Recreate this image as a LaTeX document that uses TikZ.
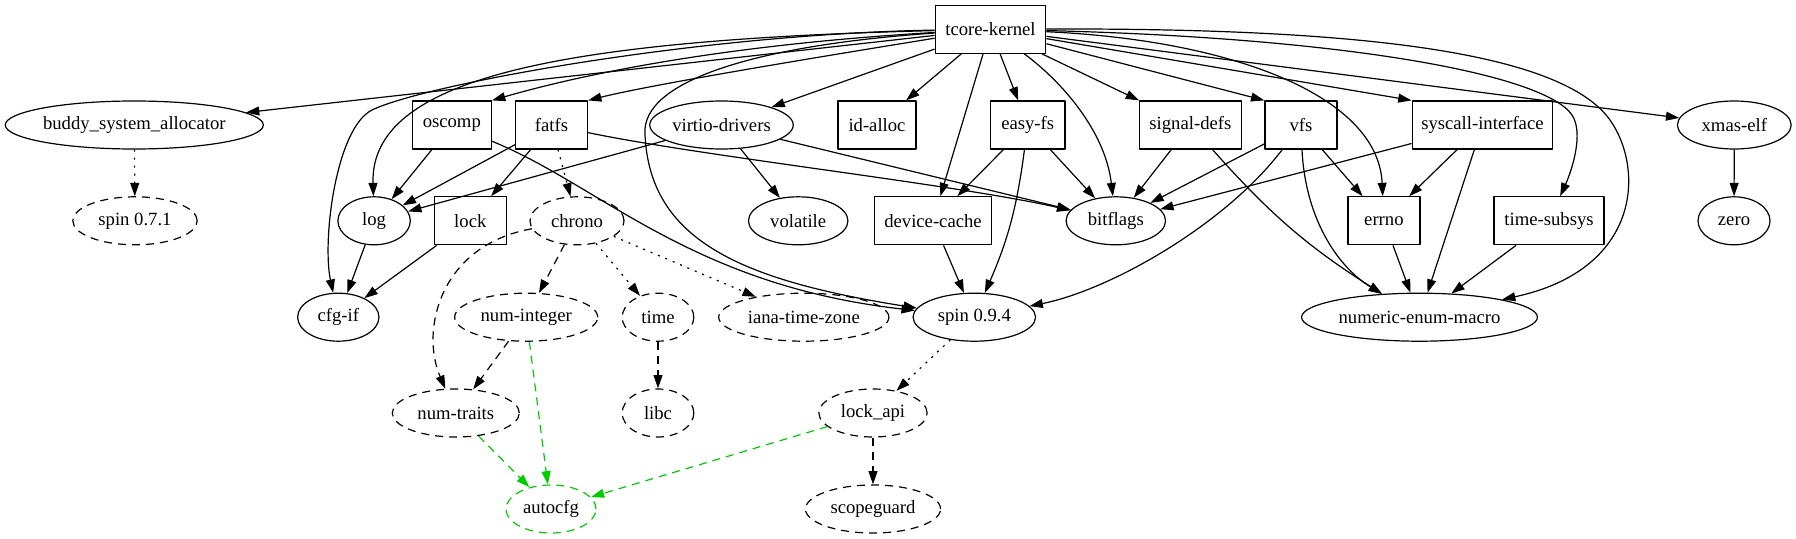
\documentclass[tikz,border=0pt]{standalone}
\usepackage{fontspec}
\setmainfont{Liberation Serif}
\usetikzlibrary{arrows.meta,shapes.geometric}

\definecolor{depgreen}{RGB}{0,205,0}

\tikzset{
  crate/.style={draw,rectangle,minimum height=36pt,inner sep=0pt,line width=0.9pt},
  dep/.style={draw,ellipse,minimum height=36pt,inner sep=0pt,line width=0.9pt},
  optdep/.style={dep,dash pattern=on 6pt off 4.5pt},
  builddep/.style={optdep,draw=depgreen},
  uses/.style={-{Triangle[length=10pt,width=6.7pt]},line width=0.9pt},
  optuses/.style={uses,dash pattern=on 6pt off 4.5pt},
  weakuses/.style={uses,dash pattern=on 1.5pt off 4.5pt},
  builduses/.style={optuses,depgreen}
}

\begin{document}
\begin{tikzpicture}[x=0.75pt,y=-0.75pt,line cap=butt,line join=round,
    font=\fontsize{14}{16}\selectfont]
  \useasboundingbox (0,0) rectangle (1796,539);

  \node[crate,minimum width=83pt] (tk) at (990.5,29.2) {tcore-kernel};

  \node[dep,minimum width=193.5pt] (buddy) at (134.3,125) {buddy\_system\_allocator};
  \node[crate,minimum width=59.4pt] (oscomp) at (451.8,125) {oscomp};
  \node[crate,minimum width=54pt] (fatfs) at (551.5,125) {fatfs};
  \node[dep,minimum width=107.6pt] (virtio) at (721.5,125) {virtio-drivers};
  \node[crate,minimum width=58.5pt] (idalloc) at (877,125) {id-alloc};
  \node[crate,minimum width=56pt] (easyfs) at (1027.7,125) {easy-fs};
  \node[crate,minimum width=76.2pt] (signal) at (1190.4,125) {signal-defs};
  \node[crate,minimum width=54pt] (vfs) at (1300.9,125) {vfs};
  \node[crate,minimum width=105.4pt] (syscall) at (1482.4,125) {syscall-interface};
  \node[dep,minimum width=85.3pt] (xmas) at (1734.3,125) {xmas-elf};

  \node[optdep,minimum width=93.3pt] (spin071) at (135,220.8) {spin 0.7.1};
  \node[dep,minimum width=54.3pt] (log) at (374.1,220.8) {log};
  \node[crate,minimum width=54pt] (lock) at (470.3,220.8) {lock};
  \node[optdep,minimum width=70.5pt] (chrono) at (577,220.8) {chrono};
  \node[dep,minimum width=74.6pt] (volatile) at (798.2,220.8) {volatile};
  \node[crate,minimum width=87.2pt] (devcache) at (933,220.8) {device-cache};
  \node[dep,minimum width=74.6pt] (bitflags) at (1115.8,220.8) {bitflags};
  \node[crate,minimum width=54pt] (errno) at (1383.9,220.8) {errno};
  \node[crate,minimum width=82.5pt] (timesub) at (1549,220.8) {time-subsys};
  \node[dep,minimum width=54pt] (zero) at (1734,220.8) {zero};

  \node[dep,minimum width=61pt] (cfgif) at (338.3,317.2) {cfg-if};
  \node[optdep,minimum width=107.3pt] (numint) at (526.2,317.2) {num-integer};
  \node[optdep,minimum width=53.7pt] (time) at (658,317.2) {time};
  \node[optdep,minimum width=127.7pt] (iana) at (803.8,317.2) {iana-time-zone};
  \node[dep,minimum width=91.9pt] (spin094) at (974.3,317.2) {spin 0.9.4};
  \node[dep,minimum width=176.9pt] (numenum) at (1419.5,317.2) {numeric-enum-macro};

  \node[optdep,minimum width=95.3pt] (numtraits) at (455.8,413) {num-traits};
  \node[optdep,minimum width=53.7pt] (libc) at (658,413) {libc};
  \node[optdep,minimum width=81.2pt] (lockapi) at (873,413) {lock\_api};

  \node[builddep,minimum width=67.5pt] (autocfg) at (551,509) {autocfg};
  \node[optdep,minimum width=101.3pt] (scopeguard) at (873,509) {scopeguard};

  \draw[uses] (tk) -- (buddy);
  \draw[uses] (tk) .. controls (550,40) and (370,80) .. (log);
  \draw[uses] (tk) .. controls (700,34) and (426,84) .. (372,110)
    .. controls (336,128) and (322,240) .. (cfgif);
  \draw[uses] (tk) .. controls (720,45) and (580,75) .. (oscomp.north east);
  \draw[uses] (tk) .. controls (800,60) and (650,85) .. (fatfs.north east);
  \draw[uses] (tk) .. controls (760,45) and (640,80) .. (645,135)
    .. controls (650,240) and (740,280) .. (spin094);
  \draw[uses] (tk) -- (virtio);
  \draw[uses] (tk) -- (idalloc);
  \draw[uses] (tk) -- (devcache);
  \draw[uses] (tk) -- (easyfs);
  \draw[uses] (tk) .. controls (1060,80) and (1105,130) .. (bitflags);
  \draw[uses] (tk) -- (signal);
  \draw[uses] (tk) -- (vfs.north west);
  \draw[uses] (tk) .. controls (1230,40) and (1378,95) .. (errno);
  \draw[uses] (tk) -- (syscall.north west);
  \draw[uses] (tk) .. controls (1350,38) and (1545,75) .. (1572,115)
    .. controls (1584,133) and (1572,170) .. (timesub);
  \draw[uses] (tk) .. controls (1350,28) and (1560,50) .. (1610,120)
    .. controls (1645,170) and (1640,270) .. (numenum);
  \draw[uses] (tk) -- (xmas);

  \draw[weakuses] (buddy) -- (spin071);
  \draw[uses] (oscomp) -- (log);
  \draw[uses] (oscomp) .. controls (600,185) and (690,285) .. (spin094);
  \draw[uses] (fatfs) -- (log);
  \draw[uses] (fatfs) -- (lock);
  \draw[weakuses] (fatfs) -- (chrono);
  \draw[uses] (fatfs) .. controls (700,156) and (960,185) .. (bitflags);
  \draw[uses] (virtio) -- (log);
  \draw[uses] (virtio) -- (volatile);
  \draw[uses] (virtio) -- (bitflags);
  \draw[uses] (easyfs) -- (devcache);
  \draw[uses] (easyfs) -- (bitflags);
  \draw[uses] (easyfs) to[bend left=8] (spin094);
  \draw[uses] (devcache) -- (spin094);
  \draw[uses] (signal) -- (bitflags);
  \draw[uses] (signal) to[bend right=8] (numenum);
  \draw[uses] (vfs) -- (bitflags);
  \draw[uses] (vfs) .. controls (1225,225) and (1110,290) .. (spin094);
  \draw[uses] (vfs) .. controls (1305,215) and (1335,265) .. (numenum);
  \draw[uses] (vfs) -- (errno);
  \draw[uses] (syscall) -- (bitflags);
  \draw[uses] (syscall) -- (errno);
  \draw[uses] (syscall) -- (numenum);
  \draw[uses] (errno) -- (numenum);
  \draw[uses] (timesub) -- (numenum);
  \draw[uses] (xmas) -- (zero);
  \draw[uses] (log) -- (cfgif);
  \draw[uses] (lock) -- (cfgif);

  \draw[optuses] (chrono) -- (numint);
  \draw[optuses] (chrono) .. controls (440,245) and (420,330) .. (numtraits);
  \draw[weakuses] (chrono) -- (time);
  \draw[weakuses] (chrono) -- (iana);
  \draw[optuses] (numint) -- (numtraits);
  \draw[builduses] (numint) -- (autocfg);
  \draw[builduses] (numtraits) -- (autocfg);
  \draw[optuses] (time) -- (libc);
  \draw[weakuses] (spin094) -- (lockapi);
  \draw[builduses] (lockapi) -- (autocfg);
  \draw[optuses] (lockapi) -- (scopeguard);
\end{tikzpicture}
\end{document}
